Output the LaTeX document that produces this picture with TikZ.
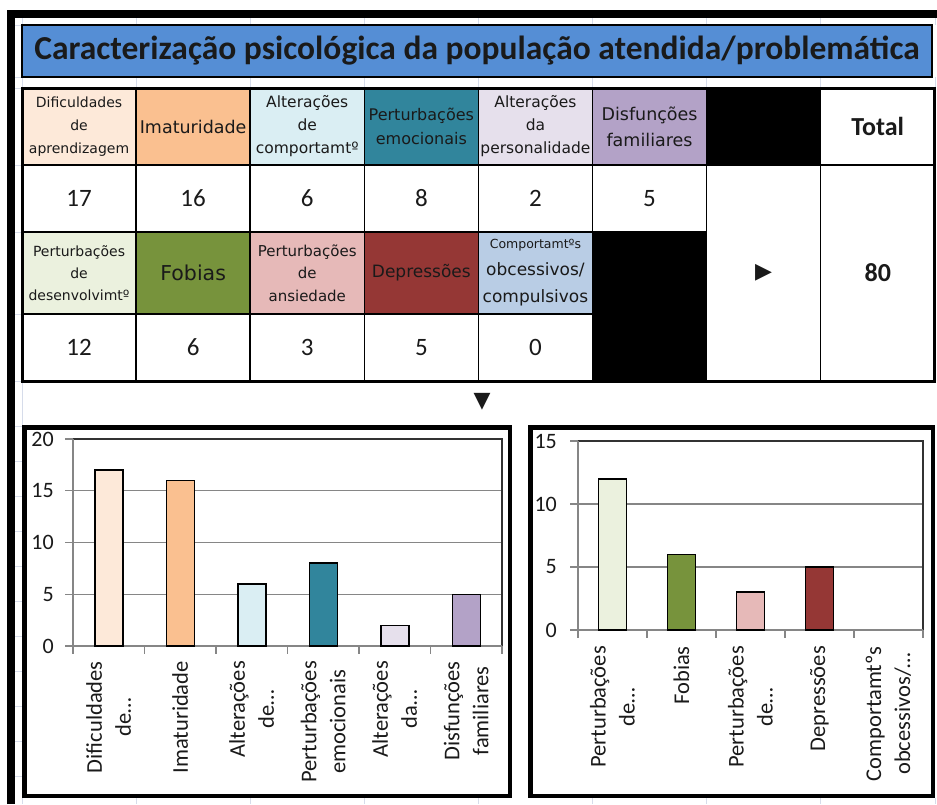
\documentclass[tikz,border=0pt]{standalone}
\usepackage{fontspec}
\setmainfont{Carlito}
\newfontfamily\hdrfont{DejaVu Sans}
\usetikzlibrary{positioning}

\definecolor{titleblue}{RGB}{85,142,213}
\definecolor{cPeach}{RGB}{253,233,217}
\definecolor{cOrange}{RGB}{250,192,144}
\definecolor{cIce}{RGB}{218,238,243}
\definecolor{cTeal}{RGB}{49,133,156}
\definecolor{cLilac}{RGB}{230,224,236}
\definecolor{cPurple}{RGB}{179,162,199}
\definecolor{cMint}{RGB}{235,241,222}
\definecolor{cOlive}{RGB}{119,147,60}
\definecolor{cRose}{RGB}{230,185,184}
\definecolor{cWine}{RGB}{149,55,53}
\definecolor{cSky}{RGB}{185,205,229}
\definecolor{sheetgrid}{RGB}{214,220,234}
\definecolor{gridgrey}{RGB}{134,134,134}
\definecolor{framegrey}{RGB}{50,50,50}
\definecolor{ink}{RGB}{26,26,26}

\newcommand{\hsz}[2]{\hdrfont\fontsize{#1}{#2}\selectfont}

\begin{document}
\begin{tikzpicture}[x=1pt, y=-1pt,
    cell/.style={draw, line width=1.5pt, fill=#1, outer sep=0pt, inner sep=0pt,
                 minimum width=114.1pt, align=center, text=ink},
    cell/.default=white,
    hdr/.style={cell=#1, minimum height=77pt},
    hdrlow/.style={cell=#1, minimum height=82pt},
    val/.style={cell, minimum height=67pt, font=\fontsize{25}{30}\selectfont},
    titlebar/.style={draw, line width=1.5pt, fill=titleblue, anchor=north west, outer sep=0pt,
                     minimum width=910pt, minimum height=52pt, text=ink,
                     font=\bfseries\fontsize{33.5}{36}\selectfont},
    chartbox/.style={draw, line width=4.5pt, fill=white, outer sep=0pt, anchor=north west},
    gridln/.style={draw=gridgrey, line width=1.4pt},
    plotframe/.style={draw=framegrey, line width=2pt},
    bar/.style={draw=black, line width=1.5pt, fill=#1},
    ylab/.style={anchor=east, inner sep=0pt, text=ink, font=\fontsize{22}{22}\selectfont},
    xlab/.style={anchor=east, rotate=90, align=center, inner sep=0pt, text=ink,
                 font=\fontsize{22.5}{29}\selectfont},
    sheet/.style={draw=sheetgrid, line width=1pt},
]
\useasboundingbox[fill=white] (0,0) rectangle (937,804);

% Spreadsheet grid showing through
\foreach \x in {22,136.1,250.2,364.4,478.5,592.6,706.7,820.9,935} {
    \draw[sheet] (\x,18) -- (\x,25);
    \draw[sheet] (\x,77) -- (\x,88);
    \draw[sheet] (\x,798) -- (\x,804);
}
\draw[sheet] (22,18) -- (22,804);
\foreach \y in {25,77,88,165,232,314,381,426.7,461.7,496.7,531.7,566.7,601.7,636.7,671.7,706.7,741.7,776.7} {
    \draw[sheet] (15,\y) -- (22,\y);
}

% Sheet frame
\draw[line width=8pt] (11,804) -- (11,14) -- (937,14);

% Title
\node[titlebar] (title) at (22,25) {Caracterização psicológica da população atendida/problemática};

% Header row 1
\node[hdr=cPeach, anchor=north west, font=\hsz{14}{23}] (h1) at (22,88) {Dificuldades\\de\\aprendizagem};
\node[hdr=cOrange, right=0pt of h1, font=\hsz{17.5}{23}] (h2) {Imaturidade};
\node[hdr=cIce, right=0pt of h2, font=\hsz{15.5}{23}] (h3) {Alterações\\de\\comportamtº};
\node[hdr=cTeal, right=0pt of h3, font=\hsz{16}{24}] (h4) {Perturbações\\emocionais};
\node[hdr=cLilac, right=0pt of h4, font=\hsz{15.5}{23}] (h5) {Alterações\\da\\personalidade};
\node[hdr=cPurple, right=0pt of h5, font=\hsz{17.5}{26}] (h6) {Disfunções\\familiares};
\node[hdr=black, right=0pt of h6] (hb1) {};
\node[hdr, right=0pt of hb1, font=\bfseries\fontsize{26}{30}\selectfont] (htot) {Total};

% Values row 1
\foreach \i/\n in {1/17,2/16,3/6,4/8,5/2,6/5} {
    \node[val, below=0pt of h\i] (v\i) {\n};
}
\node[cell, minimum height=216pt, below=0pt of hb1, font=\hsz{22}{22}] (vnext) {▶};
\node[cell, minimum height=216pt, below=0pt of htot, font=\bfseries\fontsize{26}{30}\selectfont] (vtot) {80};

% Header row 2
\node[hdrlow=cMint, below=0pt of v1, font=\hsz{14}{22}] (h7) {Perturbações\\de\\desenvolvimtº};
\node[hdrlow=cOlive, below=0pt of v2, font=\hsz{20.5}{23}] (h8) {Fobias};
\node[hdrlow=cRose, below=0pt of v3, font=\hsz{15}{22.5}] (h9) {Perturbações\\de\\ansiedade};
\node[hdrlow=cWine, below=0pt of v4, font=\hsz{17}{23}] (h10) {Depressões};
\node[hdrlow=cSky, below=0pt of v5, font=\hsz{17}{27}] (h11) {{\hsz{12.5}{27}Comportamtºs}\\obcessivos/\\compulsivos};
\node[cell=black, minimum height=149pt, below=0pt of v6] (hb2) {};

% Values row 2
\foreach \i/\n in {7/12,8/6,9/3,10/5,11/0} {
    \node[val, below=0pt of h\i] (v\i) {\n};
}

% Table outline
\draw[line width=3pt] (h1.north west) rectangle (vtot.south east);

% Pointer to the charts
\node[inner sep=0pt, text=ink, font=\hsz{22}{22}] (down) at (482,402) {▼};

% Left chart
\node[chartbox, minimum width=485.5pt, minimum height=368.5pt] (lchart) at (24.5,427.5) {};
\foreach \v in {5,10,15} {
    \draw[gridln] (73,{646-\v*10.35}) -- (502,{646-\v*10.35});
}
\draw[plotframe] (73,439) rectangle (502,646);
\draw[gridln] (73,439) -- (73,646) -- (502,646);
\foreach \v in {0,5,...,20} {
    \draw[gridln] (65,{646-\v*10.35}) -- (73,{646-\v*10.35});
    \node[ylab] (lyt\v) at (54,{646-\v*10.35}) {\v};
}
\foreach \k in {0,...,6} {
    \draw[gridln] ({73+\k*71.5},646) -- ++(0,8);
}
\foreach \k/\v/\clr/\txt in {1/17/cPeach/{Dificuldades\\de…}, 2/16/cOrange/{Imaturidade},
        3/6/cIce/{Alterações\\de…}, 4/8/cTeal/{Perturbações\\emocionais},
        5/2/cLilac/{Alterações\\da…}, 6/5/cPurple/{Disfunções\\familiares}} {
    \pgfmathsetmacro{\cx}{73+(\k-0.5)*71.5}
    \draw[bar=\clr] ({\cx-14},646) rectangle ++(28,{-\v*10.35});
    \node[xlab] (lblL\k) at (\cx,661) {\txt};
}

% Right chart
\node[chartbox, minimum width=402.5pt, minimum height=368.5pt] (rchart) at (530.5,427.5) {};
\foreach \v in {5,10} {
    \draw[gridln] (578,{630-\v*12.6}) -- (923,{630-\v*12.6});
}
\draw[plotframe] (578,441) rectangle (923,630);
\draw[gridln] (578,441) -- (578,630) -- (923,630);
\foreach \v in {0,5,...,15} {
    \draw[gridln] (570,{630-\v*12.6}) -- (578,{630-\v*12.6});
    \node[ylab] (ryt\v) at (557,{630-\v*12.6}) {\v};
}
\foreach \k in {0,...,5} {
    \draw[gridln] ({578+\k*69},630) -- ++(0,8);
}
\foreach \k/\v/\clr/\txt in {1/12/cMint/{Perturbações\\de…}, 2/6/cOlive/{Fobias},
        3/3/cRose/{Perturbações\\de…}, 4/5/cWine/{Depressões},
        5/0/cSky/{Comportamtºs\\obcessivos/…}} {
    \pgfmathsetmacro{\cx}{578+(\k-0.5)*69}
    \ifnum\v>0
        \draw[bar=\clr] ({\cx-14},630) rectangle ++(28,{-\v*12.6});
    \fi
    \node[xlab] (lblR\k) at (\cx,646) {\txt};
}

\end{tikzpicture}
\end{document}
